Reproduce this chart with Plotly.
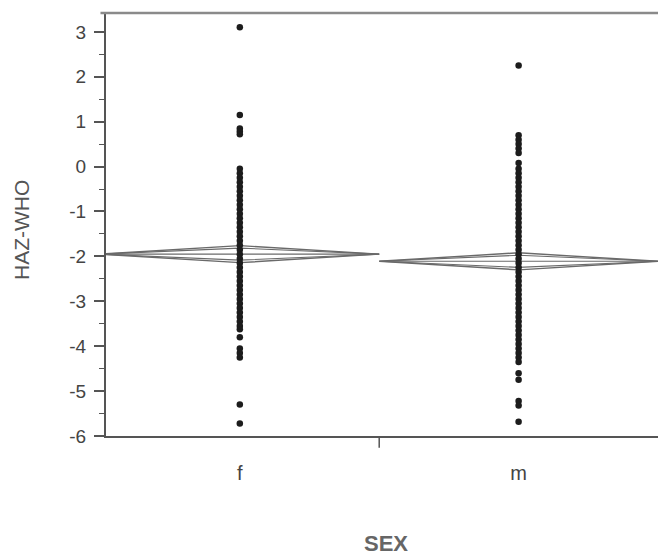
import plotly.graph_objects as go

categories = ["f", "m"]
cat_pos = [0, 1]

haz_f = [3.1, 1.15, 0.85, 0.78, 0.72,
         -0.05, -0.15, -0.25, -0.35, -0.45, -0.55, -0.65, -0.75, -0.85, -0.95,
         -1.05, -1.15, -1.25, -1.35, -1.45, -1.55, -1.65, -1.75, -1.85, -1.95,
         -2.05, -2.15, -2.25, -2.35, -2.45, -2.55, -2.65, -2.75, -2.85, -2.95,
         -3.05, -3.15, -3.25, -3.35, -3.45, -3.55, -3.62,
         -3.8, -4.05, -4.15, -4.25, -5.3, -5.72]

haz_m = [2.25, 0.7, 0.6, 0.5, 0.4, 0.3, 0.08,
         -0.05, -0.15, -0.25, -0.35, -0.45, -0.55, -0.65, -0.75, -0.85, -0.95,
         -1.05, -1.15, -1.25, -1.35, -1.45, -1.55, -1.65, -1.75, -1.85, -1.95,
         -2.05, -2.15, -2.25, -2.35, -2.45, -2.55, -2.65, -2.75, -2.85, -2.95,
         -3.05, -3.15, -3.25, -3.35, -3.45, -3.55, -3.65, -3.75, -3.85, -3.95,
         -4.05, -4.15, -4.25, -4.35,
         -4.6, -4.75, -5.22, -5.32, -5.68]

group_means = [-1.95, -2.11]
ci_half = [0.19, 0.19]

y_ticks = [-6, -5, -4, -3, -2, -1, 0, 1, 2, 3]

fig = go.Figure()

# means diamonds
line_col = "#6a6a6a"
for pos, mu, h in zip(cat_pos, group_means, ci_half):
    w = 0.5
    fig.add_trace(go.Scatter(
        x=[pos - w, pos, pos + w, pos, pos - w],
        y=[mu, mu + h, mu, mu - h, mu],
        mode="lines", line=dict(color=line_col, width=1.4),
        hoverinfo="skip", showlegend=False))
    h2 = h / 2 ** 0.5
    fig.add_trace(go.Scatter(
        x=[pos - w, pos, pos + w, pos, pos - w],
        y=[mu, mu + h2, mu, mu - h2, mu],
        mode="lines", line=dict(color=line_col, width=1.1),
        hoverinfo="skip", showlegend=False))
    fig.add_trace(go.Scatter(
        x=[pos - w, pos + w], y=[mu, mu],
        mode="lines", line=dict(color=line_col, width=1.1),
        hoverinfo="skip", showlegend=False))

for pos, vals in zip(cat_pos, [haz_f, haz_m]):
    fig.add_trace(go.Scatter(
        x=[pos] * len(vals), y=vals, mode="markers",
        marker=dict(color="#1c1c1c", size=6.5),
        showlegend=False))

fig.update_layout(
    width=658, height=556,
    margin=dict(l=106, r=0, t=13, b=120),
    plot_bgcolor="white", paper_bgcolor="white",
    font=dict(family="Liberation Sans, Arial, sans-serif", color="#444"),
    showlegend=False,
)

fig.update_xaxes(
    range=[-0.48, 1.5], tickvals=cat_pos, ticktext=categories,
    ticks="", showgrid=False, zeroline=False,
    showline=True, linecolor="#555", linewidth=2,
    tickfont=dict(size=20, color="#444"), ticklabelstandoff=18,
)
fig.update_yaxes(
    range=[-6, 3.42], tickvals=y_ticks, ticktext=[str(v) for v in y_ticks],
    ticks="outside", ticklen=10, tickwidth=1.5, tickcolor="#555",
    showgrid=False, zeroline=False,
    showline=True, linecolor="#555", linewidth=2,
    tickfont=dict(size=19, color="#444"), ticklabelstandoff=4,
    minor=dict(dtick=0.5, tick0=0.5, ticks="outside", ticklen=5,
               tickwidth=1.2, tickcolor="#555", showgrid=False),
)

fig.add_shape(type="line", xref="paper", yref="paper", x0=-0.01, x1=1, y0=1, y1=1,
              line=dict(color="#8a8a8a", width=2.5))
fig.add_shape(type="line", xref="x", yref="paper", x0=0.5, x1=0.5, y0=0, y1=-0.028,
              line=dict(color="#555", width=1.5))

pw = 658 - 106
ph = 556 - 13 - 120
fig.add_annotation(text="HAZ-WHO", x=(22 - 106) / pw, y=(556 - 120 - 230) / ph,
                   xref="paper", yref="paper", xanchor="center", yanchor="middle",
                   showarrow=False, textangle=-90,
                   font=dict(size=21, color="#555"))
fig.add_annotation(text="<b>SEX</b>", x=(386 - 106) / pw, y=(556 - 120 - 543) / ph,
                   xref="paper", yref="paper", xanchor="center", yanchor="middle",
                   showarrow=False, font=dict(size=22, color="#666"))

fig.write_html("out.html", config={"displayModeBar": False},
               post_script="document.body.style.margin='0';")
